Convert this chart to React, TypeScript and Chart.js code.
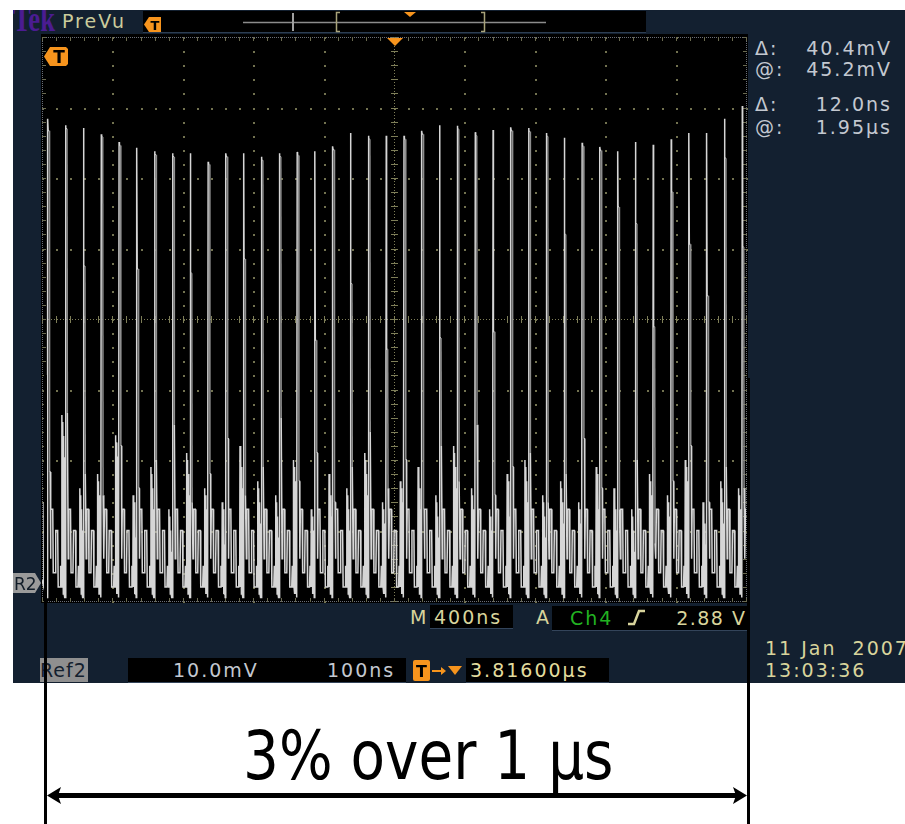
import React, { useEffect, useRef } from 'react';
import { Chart, registerables } from 'chart.js';

Chart.register(...registerables);

// ---- Horizontal / vertical graticule (10 x 8 divisions) ----
const X_DIV_NS = [0, 400, 800, 1200, 1600, 2000, 2400, 2800, 3200, 3600, 4000];
const Y_DIV_MV = [-40, -30, -20, -10, 0, 10, 20, 30, 40];

// ---- Pulse train (time of each rising edge, ns) ----
const PULSE_T_NS = [
  31, 132, 234, 335, 436, 537, 638, 740, 841, 942,
  1043, 1144, 1245, 1347, 1448, 1549, 1650, 1751, 1853, 1954,
  2055, 2156, 2257, 2358, 2460, 2561, 2662, 2763, 2864, 2966,
  3067, 3168, 3269, 3370, 3471, 3573, 3674, 3775, 3876, 3977,
];
// peak of each pulse (mV, relative to screen centre, 10 mV/div)
const PEAK_MV = [
  28.4, 27.5, 27.1, 26.2, 25.1, 24.3, 23.8, 23.5, 23.5, 22.3,
  23.5, 23.5, 23.0, 23.5, 23.7, 23.8, 24.5, 26.4, 26.0, 26.0,
  26.0, 26.7, 27.5, 27.4, 26.5, 26.8, 27.2, 27.1, 26.4, 25.7,
  25.0, 24.4, 23.8, 25.1, 24.7, 25.5, 26.4, 26.4, 28.4, 30.2,
];
// level where the falling edge's second trace starts
const STEP_MV = [
  26.7, 27.0, 7.5, 25.8, 24.6, 7.1, 23.3, 23.0, 6.5, 21.9,
  23.0, 8.5, 22.5, 23.0, 23.2, -3.0, 24.0, 5.0, 25.5, -4.3,
  25.5, 26.2, -2.7, 26.9, 26.0, -1.8, 26.7, 26.6, 25.9, 12.0,
  24.5, 23.9, 15.9, 13.5, -1.1, 18.0, 10.6, 3.3, 22.8, 10.2,
];
// level where that second trace ends (shoulder in the lower half)
const SHOULDER_MV = [
  -21.7, -13.3, -22, -25, -18, -24, -20, -15, -26, -22,
  -17, -25, -21, -14, -23, -19, -26, -21, -16, -24,
  -20, -27, -18, -23, -15, -25, -21, -19, -26, -22,
  -17, -24, -27, -20, -31.8, -23, -18, -26, -21, -24,
];
// top of the small bump just before each rising edge
const PRE_MV = [
  -26, -13.6, -24, -22, -16.5, -25, -21, -27, -19, -24,
  -26, -18, -23, -25, -20, -27, -22, -24, -19, -26,
  -23, -21, -25, -18, -24, -27, -22, -20, -25, -23,
  -26, -21, -24, -27, -22, -25, -20, -26, -23, -24,
];
const BASE_MV = -39.5;
// pre-bump strokes (offset from rising edge, ns)
const PRE_LOW_DT = [-21, -16, -11, -6, -2];
const PRE_LOW_MV = [-38, -38, -39, -39, -39.5];
const PRE_TOP_DT = [-19, -14, -9, -4];
const PRE_TOP_DROP = [0, 1, 3, 6];
// ringing after the pulse (offset from rising edge, ns)
const RING_DT = [17, 20, 30, 33, 44, 47, 58, 61, 72, 75];
const RING_MV = [-34, -27, -27, -36, -36, -30, -30, -38, -38, -35];

type P = { x: number; y: number; g?: boolean };

function buildTrace(): P[] {
  const pts: P[] = [{ x: 0, y: -37 }];
  for (let k = 0; k < PULSE_T_NS.length; k++) {
    const t = PULSE_T_NS[k];
    for (let i = 0; i < PRE_LOW_DT.length; i++) {
      pts.push({ x: t + PRE_LOW_DT[i], y: PRE_LOW_MV[i] });
      if (i < PRE_TOP_DT.length) pts.push({ x: t + PRE_TOP_DT[i], y: PRE_MV[k] - PRE_TOP_DROP[i] });
    }
    pts.push({ x: t, y: BASE_MV });
    pts.push({ x: t + 2, y: PEAK_MV[k] });
    pts.push({ x: t + 4, y: STEP_MV[k] });
    pts.push({ x: t + 10, y: STEP_MV[k] });
    pts.push({ x: t + 12, y: SHOULDER_MV[k], g: true });
    pts.push({ x: t + 15, y: SHOULDER_MV[k] });
    for (let i = 0; i < RING_DT.length; i++) pts.push({ x: t + RING_DT[i], y: RING_MV[i] });
  }
  return pts;
}

const NAVY = '#132030';
const ORANGE = '#f7941d';
const KHAKI = '#d8d49c';
const LIGHT = '#c3c8d0';
const DOT = '#727250';

const graticule = {
  id: 'graticule',
  beforeDatasetsDraw(chart: any) {
    const { ctx, chartArea: a, scales } = chart;
    const xs = scales.x;
    const ys = scales.y;
    const px = (v: number) => Math.round(xs.getPixelForValue(v));
    const py = (v: number) => Math.round(ys.getPixelForValue(v));
    const xStep = (X_DIV_NS[1] - X_DIV_NS[0]) / 5;
    const yStep = (Y_DIV_MV[1] - Y_DIV_MV[0]) / 5;
    const xMin = X_DIV_NS[0], xMax = X_DIV_NS[X_DIV_NS.length - 1];
    const yMin = Y_DIV_MV[0], yMax = Y_DIV_MV[Y_DIV_MV.length - 1];
    const xc = X_DIV_NS[5], yc = Y_DIV_MV[4];
    ctx.save();
    ctx.fillStyle = DOT;
    for (const xv of X_DIV_NS) {
      if (xv === xMin || xv === xMax || xv === xc) continue;
      for (let yv = yMin; yv <= yMax + 0.01; yv += yStep) ctx.fillRect(px(xv), py(yv), 2, 2);
    }
    for (const yv of Y_DIV_MV) {
      if (yv === yMin || yv === yMax || yv === yc) continue;
      for (let xv = xMin; xv <= xMax + 0.01; xv += xStep) ctx.fillRect(px(xv), py(yv), 2, 2);
    }
    ctx.fillStyle = '#7e7e58';
    const cx = px(xc), cy = py(yc);
    for (let y = a.top; y <= a.bottom; y += 3) ctx.fillRect(cx, y, 1, 1);
    for (let x = a.left; x <= a.right; x += 3) ctx.fillRect(x, cy, 1, 1);
    for (let yv = yMin; yv <= yMax + 0.01; yv += yStep) ctx.fillRect(cx - 3, py(yv), 7, 1);
    for (let xv = xMin; xv <= xMax + 0.01; xv += xStep) ctx.fillRect(px(xv), cy - 3, 1, 7);
    ctx.fillStyle = '#6a6e78';
    for (let x = a.left; x <= a.right; x += 2) {
      ctx.fillRect(x, a.top, 1, 1);
      ctx.fillRect(x, a.bottom, 1, 1);
    }
    for (let y = a.top; y <= a.bottom; y += 2) {
      ctx.fillRect(a.left, y, 1, 1);
      ctx.fillRect(a.right, y, 1, 1);
    }
    ctx.fillStyle = '#6a6a50';
    for (let xv = xMin; xv <= xMax + 0.01; xv += xStep) {
      ctx.fillRect(px(xv), a.top, 1, 4);
      ctx.fillRect(px(xv), a.bottom - 3, 1, 4);
    }
    for (let yv = yMin; yv <= yMax + 0.01; yv += yStep) {
      ctx.fillRect(a.left, py(yv), 4, 1);
      ctx.fillRect(a.right - 3, py(yv), 4, 1);
    }
    ctx.restore();
  },
};

type TxtProps = { x: number; cy: number; text: string; color?: string; size?: number; ls?: number; right?: boolean };
function Txt({ x, cy, text, color = LIGHT, size = 19, ls = 2, right = false }: TxtProps) {
  const style: React.CSSProperties = {
    position: 'absolute',
    top: cy - 11,
    height: 22,
    lineHeight: '22px',
    fontSize: size,
    letterSpacing: ls,
    color,
    whiteSpace: 'pre',
    fontFamily: '"DejaVu Sans", sans-serif',
  };
  if (right) style.right = 905 - x - ls;
  else style.left = x;
  return <div style={style}>{text}</div>;
}

function Box({ l, t, r, b, bg = '#000' }: { l: number; t: number; r: number; b: number; bg?: string }) {
  return (
    <div
      style={{
        position: 'absolute', left: l, top: t, width: r - l, height: b - t, background: bg,
        borderBottom: '1px solid #33445a', boxSizing: 'border-box',
      }}
    />
  );
}

export default function App() {
  const ref = useRef<HTMLCanvasElement>(null);
  useEffect(() => {
    if (!ref.current) return;
    const trace = buildTrace();
    const chart = new Chart(ref.current, {
      type: 'scatter',
      data: {
        datasets: [
          {
            data: trace,
            showLine: true,
            borderColor: '#d6d6d6',
            borderWidth: 1.5,
            pointRadius: 0,
            tension: 0,
            segment: {
              borderColor: (c: any) => (trace[c.p1DataIndex] && trace[c.p1DataIndex].g ? '#8e8e8e' : undefined),
            },
          } as any,
        ],
      },
      options: {
        animation: false,
        responsive: false,
        maintainAspectRatio: false,
        events: [],
        layout: { padding: { left: 1, top: 3, right: 2, bottom: 2 } },
        scales: {
          x: { type: 'linear', min: X_DIV_NS[0], max: X_DIV_NS[X_DIV_NS.length - 1], display: false },
          y: { type: 'linear', min: Y_DIV_MV[0], max: Y_DIV_MV[Y_DIV_MV.length - 1], display: false },
        },
        plugins: { legend: { display: false }, tooltip: { enabled: false } },
      },
      plugins: [graticule],
    });
    return () => chart.destroy();
  }, []);

  return (
    <div
      style={{
        position: 'absolute', left: 0, top: 0, width: 905, height: 824, background: '#fff',
        overflow: 'hidden', fontFamily: '"DejaVu Sans", sans-serif',
      }}
    >
      <div style={{ position: 'absolute', left: 13, top: 10, width: 892, height: 673, background: NAVY }} />
      <div style={{ position: 'absolute', left: 13, top: 10, width: 47, height: 23, overflow: 'hidden' }}>
        <div
          style={{
            position: 'absolute', left: 0, top: -9, fontFamily: '"Liberation Serif", serif', fontWeight: 'bold',
            fontSize: 36, lineHeight: '36px', color: '#4b1c91', transform: 'scaleX(0.74)', transformOrigin: 'left',
          }}
        >
          Tek
        </div>
      </div>
      <Txt x={62} cy={21} text="PreVu" color="#cbcb9c" />
      <div style={{ position: 'absolute', left: 143, top: 11, width: 503, height: 22, background: '#000', borderBottom: '1px solid #2c3d52', boxSizing: 'border-box' }} />

      <canvas
        ref={ref}
        width={707}
        height={569}
        style={{ position: 'absolute', left: 41, top: 34, width: 707, height: 569, background: '#000' }}
      />

      <Txt x={755} cy={48} text="Δ:" />
      <Txt x={890} cy={48} text="40.4mV" right />
      <Txt x={755} cy={69} text="@:" />
      <Txt x={890} cy={69} text="45.2mV" right />
      <Txt x={755} cy={104} text="Δ:" />
      <Txt x={890} cy={104} text="12.0ns" right />
      <Txt x={755} cy={127} text="@:" />
      <Txt x={890} cy={127} text="1.95µs" right />

      <Txt x={410} cy={617} text="M" color={KHAKI} />
      <Box l={430} t={605} r={513} b={629} />
      <Txt x={434} cy={617} text="400ns" color={KHAKI} />
      <Txt x={536} cy={617} text="A" color={KHAKI} />
      <Box l={552} t={606} r={748} b={631} />
      <Txt x={570} cy={618} text="Ch4" color="#22b322" />
      <Txt x={745} cy={618} text="2.88 V" color={KHAKI} ls={1.5} right />

      <div
        style={{
          position: 'absolute', left: 40, top: 658, width: 48, height: 24, background: '#8f8f8f',
          color: '#13202e', fontSize: 19, lineHeight: '24px', letterSpacing: 1, whiteSpace: 'pre',
        }}
      >
        Ref2
      </div>
      <Box l={128} t={658} r={406} b={683} />
      <Txt x={173} cy={670} text="10.0mV" />
      <Txt x={327} cy={670} text="100ns" />
      <Box l={466} t={658} r={609} b={683} />
      <Txt x={470} cy={670} text="3.81600µs" color="#e2dc9e" />

      <Txt x={765} cy={648} text="11 Jan  2007" color={KHAKI} />
      <Txt x={765} cy={670} text="13:03:36" color={KHAKI} />

      <div
        style={{
          position: 'absolute', left: 243, top: 722, fontSize: 68, lineHeight: '68px', color: '#000',
          whiteSpace: 'pre', transform: 'scaleX(0.83)', transformOrigin: 'left',
          fontFamily: '"DejaVu Sans", sans-serif',
        }}
      >
        3% over 1 µs
      </div>

      <svg width={905} height={824} style={{ position: 'absolute', left: 0, top: 0, pointerEvents: 'none' }}>
        <line x1={243} y1={22.5} x2={546} y2={22.5} stroke="#8c8c8c" strokeWidth={1.5} />
        <line x1={293} y1={13} x2={293} y2={31} stroke="#a0a0a0" strokeWidth={2} />
        <path d="M340 12.5 L336.5 12.5 L336.5 31.5 L340 31.5" stroke="#a8a27a" strokeWidth={1.5} fill="none" />
        <path d="M481 12.5 L484.5 12.5 L484.5 31.5 L481 31.5" stroke="#a8a27a" strokeWidth={1.5} fill="none" />
        <polygon points="404,12 416,12 410,17" fill={ORANGE} />
        <polygon points="144,24.5 149,17 161,17 161,32 149,32" fill={ORANGE} />
        <text x={155} y={30} fontSize={13} fontWeight="bold" fill="#000" textAnchor="middle" fontFamily="DejaVu Sans">T</text>
        <polygon points="387,38 403,38 395,46" fill={ORANGE} />
        <polygon points="44,56.5 50,47 66,47 68,49 68,64 66,66 50,66" fill={ORANGE} />
        <text x={59} y={63} fontSize={17} fontWeight="bold" fill="#000" textAnchor="middle" fontFamily="DejaVu Sans">T</text>
        <polygon points="13,573 35,573 41,583 35,593 13,593" fill="#9a9a9a" />
        <text x={14} y={590} fontSize={17} fill="#111c28" fontFamily="DejaVu Sans">R2</text>
        <polyline points="628,624 634,624 639,611 645,611" stroke={KHAKI} strokeWidth={2.5} fill="none" />
        <rect x={413} y={660} width={17} height={21} rx={2} fill={ORANGE} />
        <text x={421.5} y={677} fontSize={16} fontWeight="bold" fill="#000" textAnchor="middle" fontFamily="DejaVu Sans">T</text>
        <line x1={432} y1={671} x2={443} y2={671} stroke={ORANGE} strokeWidth={2} />
        <polygon points="441,667 446,671 441,675" fill={ORANGE} />
        <polygon points="448,666 462,666 455,675" fill={ORANGE} />
        <rect x={44} y={375} width={3} height={449} fill="#000" />
        <rect x={747} y={378} width={3} height={446} fill="#000" />
        <rect x={54} y={793} width={684} height={5} fill="#000" />
        <polygon points="47,795.5 61,787 58,795.5 61,804" fill="#000" />
        <polygon points="747,795.5 733,787 736,795.5 733,804" fill="#000" />
      </svg>
    </div>
  );
}
